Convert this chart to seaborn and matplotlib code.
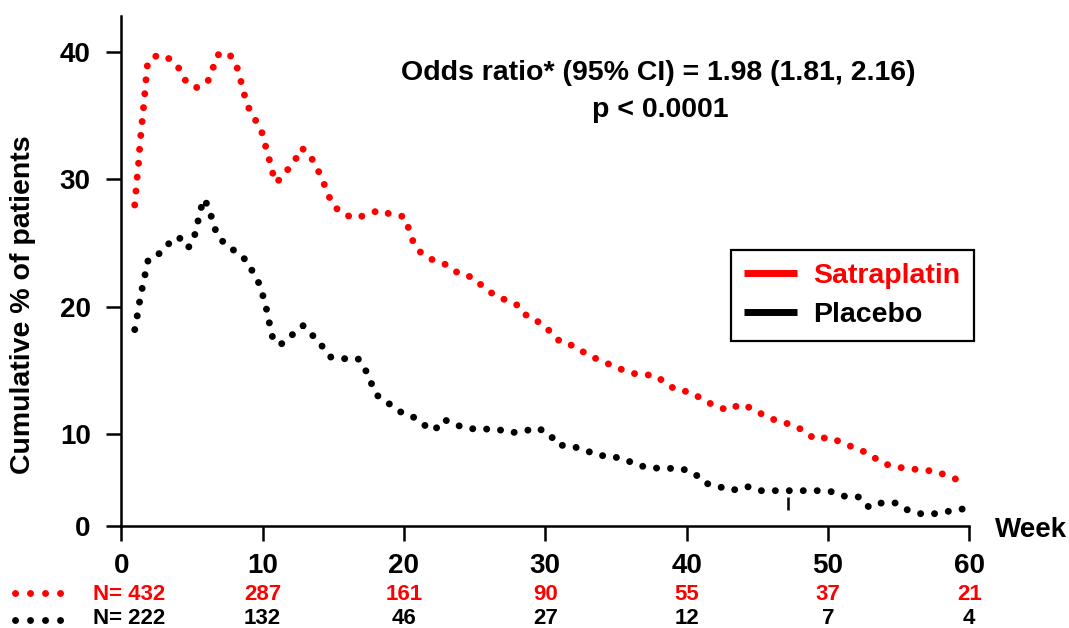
import numpy as np
import pandas as pd
import matplotlib
matplotlib.use("Agg")
import matplotlib.pyplot as plt
from matplotlib.lines import Line2D
from matplotlib.transforms import blended_transform_factory
import seaborn as sns

# ---- data -------------------------------------------------------------
arm_names = ["Satraplatin", "Placebo"]
arm_colors = ["#ff0000", "#000000"]

# Cumulative % of patients over time (weeks)
satraplatin_week = [0.95, 1.04, 1.13, 1.23, 1.30, 1.39, 1.49, 1.59, 1.68, 1.77,
                    1.87, 2.58, 3.50, 4.13, 4.60, 5.31, 6.11, 6.47, 6.82, 7.57,
                    8.10, 8.38, 8.63, 8.89, 9.37, 9.89, 10.15, 10.43, 10.66, 10.97,
                    11.65, 12.27, 12.74, 13.26, 13.76, 14.20, 14.56, 14.96, 15.69, 16.61,
                    17.48, 18.26, 19.18, 20.02, 20.38, 20.69, 21.28, 22.18, 23.12, 23.92,
                    24.86, 25.61, 26.42, 27.31, 28.14, 28.76, 29.70, 30.40, 31.11, 32.05,
                    32.93, 33.85, 34.77, 35.71, 36.68, 37.69, 38.47, 39.25, 40.24, 41.12,
                    41.99, 42.95, 43.81, 44.65, 45.55, 46.47, 47.44, 48.33, 49.08, 50.07,
                    51.02, 51.94, 52.91, 53.70, 54.60, 55.59, 56.58, 57.60, 58.54, 59.51]
satraplatin_pct = [27.97, 29.10, 30.23, 31.35, 32.47, 33.57, 34.70, 35.82, 36.95, 38.08,
                   39.20, 39.75, 39.41, 38.63, 37.61, 37.18, 37.63, 38.67, 39.75, 39.91,
                   39.10, 38.05, 36.95, 35.85, 34.86, 33.89, 32.82, 31.72, 30.64, 29.70,
                   30.57, 31.43, 32.45, 32.03, 31.06, 30.04, 29.00, 27.97, 27.24, 26.93,
                   27.27, 27.56, 27.19, 27.06, 25.99, 24.94, 24.11, 23.58, 23.24, 22.54,
                   22.30, 21.54, 20.89, 20.46, 20.05, 19.16, 18.71, 17.98, 17.17, 16.91,
                   16.26, 15.78, 15.36, 14.92, 14.63, 14.63, 14.06, 13.45, 13.30, 12.73,
                   12.20, 11.86, 12.35, 11.99, 11.41, 11.00, 10.73, 10.24, 9.42, 9.64,
                   9.05, 8.45, 7.86, 6.96, 6.45, 6.27, 6.09, 5.95, 5.40, 4.82]

placebo_week = [0.95, 1.13, 1.30, 1.49, 1.70, 1.91, 2.81, 3.45, 4.06, 4.72,
                5.09, 5.34, 5.55, 5.83, 6.11, 6.42, 6.72, 7.29, 8.12, 8.87,
                9.37, 9.84, 10.10, 10.36, 10.54, 10.78, 11.32, 12.08, 12.86, 13.51,
                14.18, 14.82, 15.76, 16.75, 17.27, 17.67, 18.09, 18.94, 19.77, 20.66,
                21.47, 22.16, 22.81, 23.63, 24.55, 25.57, 26.60, 27.57, 28.47, 29.39,
                30.26, 30.88, 31.82, 32.79, 33.73, 34.72, 35.71, 36.65, 37.64, 38.63,
                39.65, 40.54, 41.30, 42.29, 43.25, 44.22, 45.17, 46.18, 47.19, 48.23,
                49.23, 50.24, 51.19, 52.20, 52.91, 53.78, 54.77, 55.64, 56.53, 57.57,
                58.54, 59.53]
placebo_pct = [18.19, 19.29, 20.42, 21.51, 22.61, 23.71, 24.23, 25.05, 25.46, 24.60,
               25.15, 26.25, 27.35, 28.45, 27.95, 26.88, 25.80, 24.94, 24.29, 23.60,
               22.58, 21.62, 20.52, 19.42, 18.32, 17.24, 17.06, 17.77, 18.50, 17.77,
               16.93, 16.04, 15.91, 15.91, 15.05, 14.03, 13.04, 12.38, 11.73, 11.33,
               10.68, 10.29, 11.15, 10.73, 10.42, 10.39, 10.37, 10.10, 10.21, 10.49,
               10.05, 8.80, 8.70, 8.26, 7.68, 7.58, 7.17, 6.55, 6.30, 6.27,
               6.23, 5.73, 4.67, 4.27, 3.88, 4.32, 3.84, 3.84, 3.84, 3.84,
               3.84, 3.73, 3.23, 3.15, 2.03, 2.50, 2.50, 1.74, 1.34, 1.34,
               1.60, 1.85]

week_ticks = [0, 10, 20, 30, 40, 50, 60]
pct_ticks = [0, 10, 20, 30, 40]

# patients at risk at each tick week
n_satraplatin = [432, 287, 161, 90, 55, 37, 21]
n_placebo = [222, 132, 46, 27, 12, 7, 4]

odds_text = "Odds ratio* (95% CI) = 1.98 (1.81, 2.16)"
p_text = "p < 0.0001"

censor_week = 47.2
censor_span = (1.75, 3.15)

# ---- style ------------------------------------------------------------
sns.set_style("ticks")
plt.rcParams["font.family"] = ["Liberation Sans", "DejaVu Sans"]
plt.rcParams["font.weight"] = "bold"
for key in ("text.color", "axes.labelcolor", "xtick.color", "ytick.color",
            "axes.edgecolor"):
    plt.rcParams[key] = "black"

W, H = 1069, 628
fig = plt.figure(figsize=(W / 100, H / 100), dpi=100)
fig.patch.set_facecolor("white")
ax = fig.add_axes([121.3 / W, 1 - 526 / H, 848 / W, 510 / H])

# y axis: the 0-10 band is drawn narrower than the bands above it
LOW = 0.722


def _fwd(v):
    v = np.asarray(v, dtype=float)
    return np.where(v < 10, v * LOW, v - 10 + 10 * LOW)


def _inv(u):
    u = np.asarray(u, dtype=float)
    return np.where(u < 10 * LOW, u / LOW, u + 10 - 10 * LOW)


ax.set_yscale("function", functions=(_fwd, _inv))

df = pd.concat([
    pd.DataFrame({"week": satraplatin_week, "pct": satraplatin_pct, "arm": arm_names[0]}),
    pd.DataFrame({"week": placebo_week, "pct": placebo_pct, "arm": arm_names[1]}),
], ignore_index=True)

DOT_LW = 5.0
DOT = (0, (0.01, 2.0))
sns.lineplot(data=df, x="week", y="pct", hue="arm", hue_order=arm_names,
             palette=dict(zip(arm_names, arm_colors)), estimator=None, sort=False,
             linewidth=DOT_LW, linestyle=DOT, dash_capstyle="round",
             legend=False, ax=ax)

# censoring tick on the placebo curve
ax.vlines([censor_week], censor_span[0], censor_span[1], color="black", lw=1.8)

ax.set_xlim(0, 60)
ax.set_ylim(0, 42.8)
ax.set_xticks(week_ticks)
ax.set_yticks(pct_ticks)
ax.set_xticklabels([str(t) for t in week_ticks])
ax.set_yticklabels([str(t) for t in pct_ticks])
ax.minorticks_off()

for side in ("top", "right"):
    ax.spines[side].set_visible(False)
for side in ("left", "bottom"):
    ax.spines[side].set_linewidth(1.8)
    ax.spines[side].set_color("black")

ax.tick_params(axis="x", length=10.5, width=1.8, pad=9, labelsize=20, colors="black")
ax.tick_params(axis="y", length=11, width=1.8, pad=11, labelsize=20, colors="black")
for lab in ax.get_xticklabels() + ax.get_yticklabels():
    lab.set_fontweight("bold")

ax.set_ylabel("Cumulative % of patients", fontsize=20.5, fontweight="bold",
              va="center", color="black")
ax.yaxis.set_label_coords((23 - 121.3) / 848, (526 - 305) / 510)
ax.set_xlabel("Week", fontsize=20, fontweight="bold", ha="left", va="baseline",
              color="black")
ax.xaxis.set_label_coords((995 - 121.3) / 848, -(536.7 - 526) / 510)

# statistics
fig.text(658 / W, 1 - 80 / H, odds_text, ha="center", va="baseline",
         fontsize=20.5, fontweight="bold", color="black")
fig.text(660 / W, 1 - 117 / H, p_text, ha="center", va="baseline",
         fontsize=20.5, fontweight="bold", color="black")

# legend with solid line keys
handles = [Line2D([], [], color=c, lw=5.0, solid_capstyle="butt") for c in arm_colors]
leg = ax.legend(handles, arm_names, loc="upper left",
                bbox_to_anchor=((731 - 121.3) / 848, (526 - 250) / 510),
                frameon=True, fancybox=False, framealpha=1, edgecolor="black",
                prop={"weight": "bold", "size": 20.5}, handlelength=1.85,
                handletextpad=0.58, borderpad=0.46, labelspacing=0.45,
                borderaxespad=0)
leg.get_frame().set_linewidth(1.6)
for txt, c in zip(leg.get_texts(), arm_colors):
    txt.set_color(c)

# numbers at risk under the axis, each row keyed by a short dotted sample
row_tf = blended_transform_factory(ax.transData, fig.transFigure)
rows = [(n_satraplatin, arm_colors[0], 1 - 600 / H, 1 - 593 / H),
        (n_placebo, arm_colors[1], 1 - 623.5 / H, 1 - 620 / H)]
for counts, color, base_y, dot_y in rows:
    fig.add_artist(Line2D([15 / W, 61 / W], [dot_y, dot_y], color=color, lw=DOT_LW,
                          linestyle=(0, (0.01, 2.15)), dash_capstyle="round",
                          transform=fig.transFigure))
    fig.text(93 / W, base_y, f"N= {counts[0]}", ha="left", va="baseline",
             color=color, fontsize=16, fontweight="bold")
    for wk, n in zip(week_ticks[1:], counts[1:]):
        ax.text(wk, base_y, str(n), transform=row_tf, ha="center", va="baseline",
                color=color, fontsize=16, fontweight="bold")

fig.savefig("out.png", dpi=100, facecolor="white")
